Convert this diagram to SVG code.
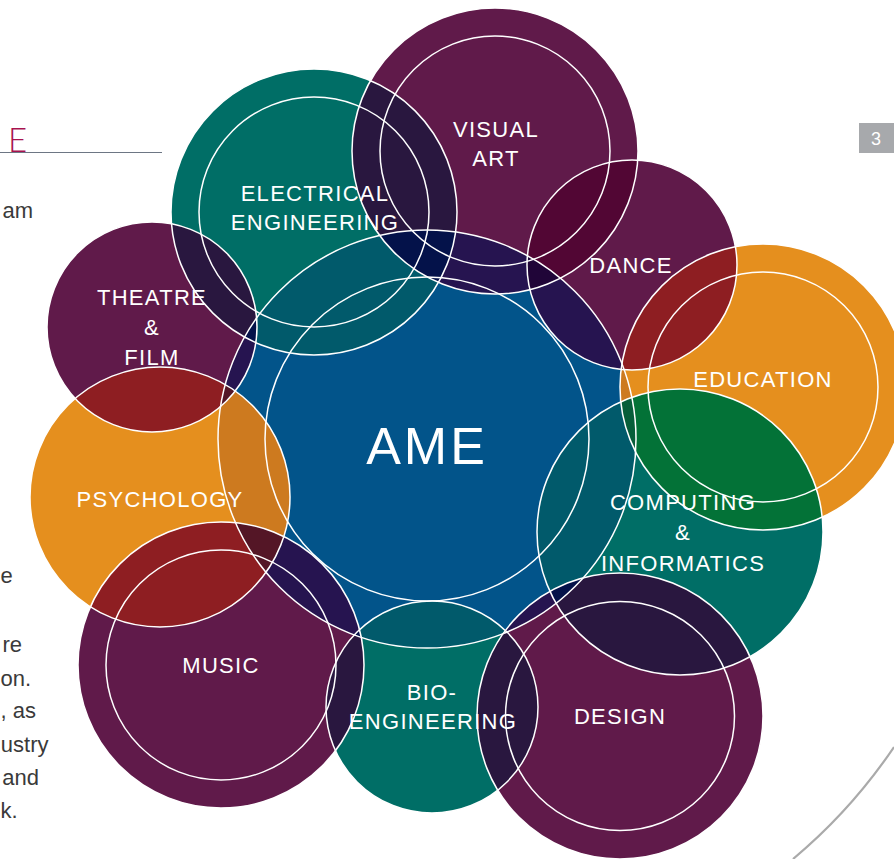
<svg xmlns="http://www.w3.org/2000/svg" width="894" height="859" viewBox="0 0 894 859">
<style>
.p{fill:#601a4a}.t{fill:#006e66}.o{fill:#e58f1e}.b{fill:#02548a}
.tp{fill:#29173f}.pb{fill:#261450}.tb{fill:#015a6b}.tpb{fill:#04124a}
.pp{fill:#520634}.ppb{fill:#200538}.op{fill:#8e1e22}.ob{fill:#cd7a1f}
.ot{fill:#037237}.otb{fill:#075e3a}.opb{fill:#541626}
.ring{fill:none;stroke:#ffffff;stroke-width:1.5}
.lbl{font-family:"Liberation Sans",Arial,sans-serif;font-size:22px;letter-spacing:1.3px;fill:#ffffff;text-anchor:middle}
.body{font-family:"Liberation Sans",Arial,sans-serif;font-size:22px;fill:#3a3a3a;text-anchor:end}
.bodys{font-family:"Liberation Sans",Arial,sans-serif;font-size:22px;fill:#3a3a3a;text-anchor:start}
</style>
<defs>
<clipPath id="c-ame"><circle cx="427" cy="439" r="209"/></clipPath>
<clipPath id="c-ee"><circle cx="314" cy="212" r="143"/></clipPath>
<clipPath id="c-va"><circle cx="495" cy="151" r="143"/></clipPath>
<clipPath id="c-dance"><circle cx="632" cy="265" r="105"/></clipPath>
<clipPath id="c-edu"><circle cx="763" cy="387" r="143"/></clipPath>
<clipPath id="c-comp"><circle cx="680" cy="532" r="143"/></clipPath>
<clipPath id="c-design"><circle cx="620" cy="716" r="143"/></clipPath>
<clipPath id="c-bio"><circle cx="432" cy="707" r="106"/></clipPath>
<clipPath id="c-music"><circle cx="221" cy="665" r="143"/></clipPath>
<clipPath id="c-psych"><circle cx="160" cy="497" r="130"/></clipPath>
<clipPath id="c-theatre"><circle cx="152" cy="327" r="105"/></clipPath>
</defs>

<g id="page">
<text x="8" y="152" font-family="Lato,'Liberation Sans',sans-serif" font-weight="300" font-size="33" fill="#a8124f">E</text>
<line x1="0" y1="152.5" x2="162" y2="152.5" stroke="#6d7684" stroke-width="1.2"/>
<text class="body" x="33" y="218">am</text>
<text class="bodys" x="0.5" y="583">e</text>
<text class="body" x="22" y="652">re</text>
<text class="bodys" x="0.5" y="686">on.</text>
<text class="bodys" x="0.5" y="718">, as</text>
<text class="body" x="48.5" y="752">ustry</text>
<text class="body" x="39" y="785">and</text>
<text class="bodys" x="0.5" y="818">k.</text>
<rect x="859" y="123" width="35" height="30" fill="#a7a9ac"/>
<text x="876" y="145" font-family="'Liberation Sans',Arial,sans-serif" font-size="18" fill="#ffffff" text-anchor="middle">3</text>
<path d="M 793 859 A 540 540 0 0 0 894 747" fill="none" stroke="#aaaaaa" stroke-width="2.2"/>
</g>

<g id="fills">
<circle id="fill-ame" class="b" cx="427" cy="439" r="209"/>
<circle id="fill-ee" class="t" cx="314" cy="212" r="143"/>
<circle id="fill-va" class="p" cx="495" cy="151" r="143"/>
<circle id="fill-dance" class="p" cx="632" cy="265" r="105"/>
<circle id="fill-edu" class="o" cx="763" cy="387" r="143"/>
<circle id="fill-comp" class="t" cx="680" cy="532" r="143"/>
<circle id="fill-design" class="p" cx="620" cy="716" r="143"/>
<circle id="fill-bio" class="t" cx="432" cy="707" r="106"/>
<circle id="fill-music" class="p" cx="221" cy="665" r="143"/>
<circle id="fill-psych" class="o" cx="160" cy="497" r="130"/>
<circle id="fill-theatre" class="p" cx="152" cy="327" r="105"/>
</g>

<g id="overlaps">
<circle class="tp" cx="314" cy="212" r="143" clip-path="url(#c-va)"/>
<circle class="tp" cx="314" cy="212" r="143" clip-path="url(#c-theatre)"/>
<circle class="tb" cx="314" cy="212" r="143" clip-path="url(#c-ame)"/>
<circle class="pp" cx="495" cy="151" r="143" clip-path="url(#c-dance)"/>
<circle class="pb" cx="495" cy="151" r="143" clip-path="url(#c-ame)"/>
<circle class="pb" cx="632" cy="265" r="105" clip-path="url(#c-ame)"/>
<circle class="op" cx="632" cy="265" r="105" clip-path="url(#c-edu)"/>
<circle class="ob" cx="763" cy="387" r="143" clip-path="url(#c-ame)"/>
<circle class="ot" cx="763" cy="387" r="143" clip-path="url(#c-comp)"/>
<circle class="tb" cx="680" cy="532" r="143" clip-path="url(#c-ame)"/>
<circle class="tp" cx="680" cy="532" r="143" clip-path="url(#c-design)"/>
<circle class="pb" cx="620" cy="716" r="143" clip-path="url(#c-ame)"/>
<circle class="tp" cx="620" cy="716" r="143" clip-path="url(#c-bio)"/>
<circle class="tb" cx="432" cy="707" r="106" clip-path="url(#c-ame)"/>
<circle class="tp" cx="432" cy="707" r="106" clip-path="url(#c-music)"/>
<circle class="pb" cx="221" cy="665" r="143" clip-path="url(#c-ame)"/>
<circle class="op" cx="221" cy="665" r="143" clip-path="url(#c-psych)"/>
<circle class="ob" cx="160" cy="497" r="130" clip-path="url(#c-ame)"/>
<circle class="op" cx="160" cy="497" r="130" clip-path="url(#c-theatre)"/>
<circle class="pb" cx="152" cy="327" r="105" clip-path="url(#c-ame)"/>
<g clip-path="url(#c-ame)">
<circle class="tpb" cx="314" cy="212" r="143" clip-path="url(#c-va)"/>
<circle class="tpb" cx="314" cy="212" r="143" clip-path="url(#c-theatre)"/>
<circle class="ppb" cx="495" cy="151" r="143" clip-path="url(#c-dance)"/>
<circle class="opb" cx="632" cy="265" r="105" clip-path="url(#c-edu)"/>
<circle class="otb" cx="763" cy="387" r="143" clip-path="url(#c-comp)"/>
<circle class="tpb" cx="680" cy="532" r="143" clip-path="url(#c-design)"/>
<circle class="tpb" cx="620" cy="716" r="143" clip-path="url(#c-bio)"/>
<circle class="tpb" cx="432" cy="707" r="106" clip-path="url(#c-music)"/>
<circle class="opb" cx="221" cy="665" r="143" clip-path="url(#c-psych)"/>
<circle class="opb" cx="160" cy="497" r="130" clip-path="url(#c-theatre)"/>
</g>
</g>

<g id="node-ame">
<circle class="ring" cx="427" cy="439" r="209"/>
<circle class="ring" cx="427" cy="439" r="162"/>
<text x="427" y="464" font-family="'Liberation Sans',Arial,sans-serif" font-size="52" letter-spacing="3" fill="#ffffff" text-anchor="middle">AME</text>
</g>
<g id="node-ee">
<circle class="ring" cx="314" cy="212" r="143"/>
<circle class="ring" cx="314" cy="212" r="115"/>
<text class="lbl" x="315" y="201">ELECTRICAL</text>
<text class="lbl" x="315" y="230">ENGINEERING</text>
</g>
<g id="node-va">
<circle class="ring" cx="495" cy="151" r="143"/>
<circle class="ring" cx="495" cy="151" r="115"/>
<text class="lbl" x="496" y="137">VISUAL</text>
<text class="lbl" x="496" y="166">ART</text>
</g>
<g id="node-dance">
<circle class="ring" cx="632" cy="265" r="105"/>
<text class="lbl" x="631" y="273">DANCE</text>
</g>
<g id="node-edu">
<circle class="ring" cx="763" cy="387" r="143"/>
<circle class="ring" cx="763" cy="387" r="115"/>
<text class="lbl" x="763" y="387">EDUCATION</text>
</g>
<g id="node-comp">
<circle class="ring" cx="680" cy="532" r="143"/>
<text class="lbl" x="683" y="510">COMPUTING</text>
<text class="lbl" x="683" y="540">&amp;</text>
<text class="lbl" x="683" y="571">INFORMATICS</text>
</g>
<g id="node-design">
<circle class="ring" cx="620" cy="716" r="143"/>
<circle class="ring" cx="620" cy="716" r="114.5"/>
<text class="lbl" x="620" y="724">DESIGN</text>
</g>
<g id="node-bio">
<circle class="ring" cx="432" cy="707" r="106"/>
<text class="lbl" x="432" y="700">BIO-</text>
<text class="lbl" x="433" y="729">ENGINEERING</text>
</g>
<g id="node-music">
<circle class="ring" cx="221" cy="665" r="143"/>
<circle class="ring" cx="221" cy="665" r="115"/>
<text class="lbl" x="221" y="673">MUSIC</text>
</g>
<g id="node-psych">
<circle class="ring" cx="160" cy="497" r="130"/>
<text class="lbl" x="160" y="507">PSYCHOLOGY</text>
</g>
<g id="node-theatre">
<circle class="ring" cx="152" cy="327" r="105"/>
<text class="lbl" x="152" y="305">THEATRE</text>
<text class="lbl" x="152" y="335">&amp;</text>
<text class="lbl" x="152" y="365">FILM</text>
</g>
<g id="connectors"></g>
</svg>
